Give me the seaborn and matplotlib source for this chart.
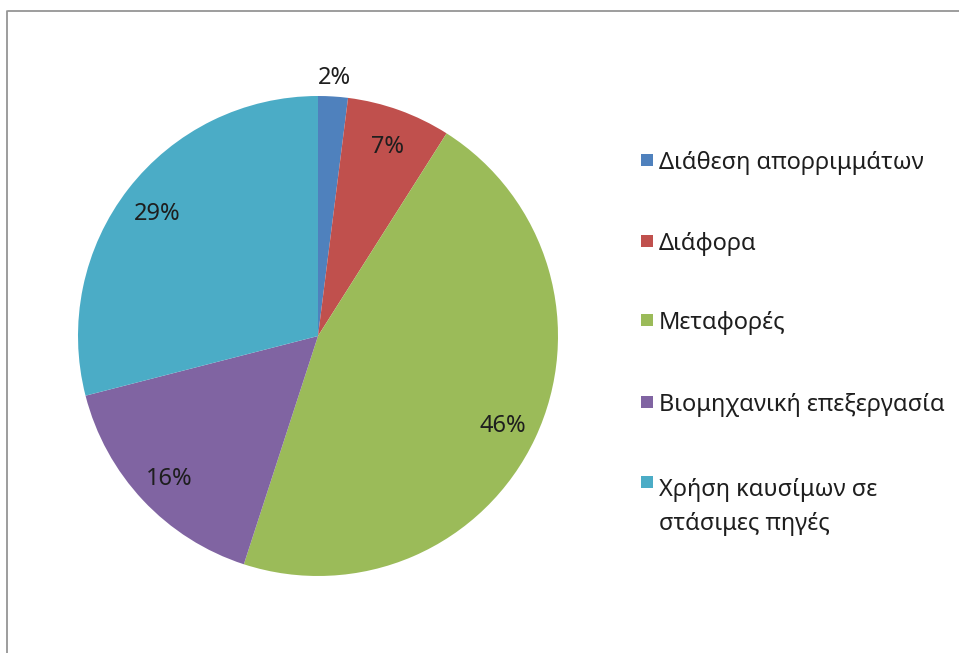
import numpy as np
import matplotlib
matplotlib.use("Agg")
import matplotlib.pyplot as plt
import seaborn as sns
from matplotlib.patches import Rectangle
from matplotlib.lines import Line2D

sns.set_theme(style="white")
plt.rcParams["font.family"] = ["Noto Sans", "DejaVu Sans"]

# Emission sources and their shares (%)
categories = [
    "Διάθεση απορριμμάτων",
    "Διάφορα",
    "Μεταφορές",
    "Βιομηχανική επεξεργασία",
    "Χρήση καυσίμων σε\nστάσιμες πηγές",
]
shares = [2, 7, 46, 16, 29]
colors = ["#4F81BD", "#C0504D", "#9BBB59", "#8064A2", "#4BACC6"]

W, H = 959, 653
fig = plt.figure(figsize=(W / 100, H / 100), dpi=100)
fig.patch.set_facecolor("white")

# Pie axes sized to the circle
cx, cy, r = 318, 336, 240
ax = fig.add_axes([(cx - r) / W, (H - cy - r) / H, 2 * r / W, 2 * r / H])
wedges, _ = ax.pie(shares, colors=colors, startangle=90, counterclock=False,
                   radius=1.0, wedgeprops=dict(linewidth=0))
ax.set_xlim(-1, 1)
ax.set_ylim(-1, 1)
ax.set_aspect("equal")
ax.axis("off")

# Percentage labels at slice mid-angles
total = sum(shares)
cum = 0
for v in shares:
    mid = 90 - (cum + v / 2) / total * 360
    cum += v
    d = 0.85 if v >= 5 else 1.09
    ang = np.deg2rad(mid)
    ax.text(d * np.cos(ang), d * np.sin(ang), f"{v}%", ha="center",
            va="center_baseline", fontsize=17, color="#1e1e1e", clip_on=False)

# Legend entries on the right (square aligned with the first text line)
rows_y = [160, 241, 320, 402, 482]
line_step = 34
for lab, col, y in zip(categories, colors, rows_y):
    fig.patches.append(Rectangle((641 / W, (H - y - 6) / H), 12 / W, 12 / H,
                                 transform=fig.transFigure, facecolor=col,
                                 edgecolor="none"))
    n_lines = lab.count("\n") + 1
    ty = y + (n_lines - 1) * line_step / 2
    fig.text(659 / W, (H - ty) / H, lab, ha="left", va="center_baseline",
             fontsize=17, color="#1e1e1e", linespacing=1.55)

# Chart frame (top and left edges)
fig.add_artist(Line2D([8 / W, 1], [(H - 10.5) / H] * 2, transform=fig.transFigure,
                      color="#8c8c8c", lw=1.2))
fig.add_artist(Line2D([6.5 / W] * 2, [0, (H - 10.5) / H], transform=fig.transFigure,
                      color="#8c8c8c", lw=1.2))

fig.savefig("out.png", dpi=100, facecolor="white")
